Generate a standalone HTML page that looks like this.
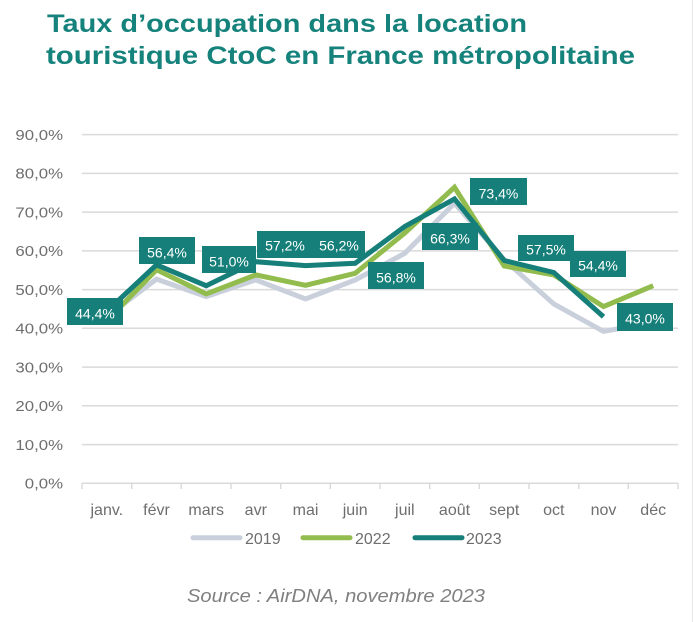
<!DOCTYPE html>
<html>
<head>
<meta charset="utf-8">
<style>
  html, body { margin:0; padding:0; background:#ffffff; }
  body { width:695px; height:622px; overflow:hidden; }
  svg { display:block; }
  .ax { font-family:"Liberation Sans", sans-serif; fill:#6e6e6e; }
  .lbl { font-family:"Liberation Sans", sans-serif; fill:#ffffff; font-size:14px; }
</style>
</head>
<body>
<svg width="695" height="622" viewBox="0 0 695 622" xmlns="http://www.w3.org/2000/svg">
  <rect x="0" y="0" width="695" height="622" fill="#ffffff"/>
  <line x1="692.5" y1="0" x2="692.5" y2="622" stroke="#e8e8e8" stroke-width="1"/>

  <!-- Title -->
  <text x="47" y="32" font-family="Liberation Sans, sans-serif" font-weight="bold" font-size="25" fill="#16827c" textLength="480" lengthAdjust="spacingAndGlyphs">Taux d’occupation dans la location</text>
  <text x="46" y="64" font-family="Liberation Sans, sans-serif" font-weight="bold" font-size="25" fill="#16827c" textLength="589" lengthAdjust="spacingAndGlyphs">touristique CtoC en France métropolitaine</text>

  <!-- Gridlines -->
  <g stroke="#dadada" stroke-width="1.5">
    <line x1="82" y1="134.6" x2="678" y2="134.6"/>
    <line x1="82" y1="173.4" x2="678" y2="173.4"/>
    <line x1="82" y1="212.1" x2="678" y2="212.1"/>
    <line x1="82" y1="250.9" x2="678" y2="250.9"/>
    <line x1="82" y1="289.6" x2="678" y2="289.6"/>
    <line x1="82" y1="328.3" x2="678" y2="328.3"/>
    <line x1="82" y1="367.1" x2="678" y2="367.1"/>
    <line x1="82" y1="405.8" x2="678" y2="405.8"/>
    <line x1="82" y1="444.6" x2="678" y2="444.6"/>
    <line x1="82" y1="483.3" x2="678" y2="483.3"/>
  </g>
  <!-- ticks -->
  <g stroke="#dadada" stroke-width="1.5">
    <line x1="82" y1="483.3" x2="82" y2="489"/>
    <line x1="131.7" y1="483.3" x2="131.7" y2="489"/>
    <line x1="181.3" y1="483.3" x2="181.3" y2="489"/>
    <line x1="231" y1="483.3" x2="231" y2="489"/>
    <line x1="280.7" y1="483.3" x2="280.7" y2="489"/>
    <line x1="330.3" y1="483.3" x2="330.3" y2="489"/>
    <line x1="380" y1="483.3" x2="380" y2="489"/>
    <line x1="429.7" y1="483.3" x2="429.7" y2="489"/>
    <line x1="479.3" y1="483.3" x2="479.3" y2="489"/>
    <line x1="529" y1="483.3" x2="529" y2="489"/>
    <line x1="578.7" y1="483.3" x2="578.7" y2="489"/>
    <line x1="628.3" y1="483.3" x2="628.3" y2="489"/>
    <line x1="678" y1="483.3" x2="678" y2="489"/>
  </g>

  <!-- Y labels -->
  <g class="ax" font-size="15">
    <g transform="translate(63,139.8) scale(1.12,1)"><text text-anchor="end">90,0%</text></g>
    <g transform="translate(63,178.6) scale(1.12,1)"><text text-anchor="end">80,0%</text></g>
    <g transform="translate(63,217.3) scale(1.12,1)"><text text-anchor="end">70,0%</text></g>
    <g transform="translate(63,256.1) scale(1.12,1)"><text text-anchor="end">60,0%</text></g>
    <g transform="translate(63,294.8) scale(1.12,1)"><text text-anchor="end">50,0%</text></g>
    <g transform="translate(63,333.5) scale(1.12,1)"><text text-anchor="end">40,0%</text></g>
    <g transform="translate(63,372.3) scale(1.12,1)"><text text-anchor="end">30,0%</text></g>
    <g transform="translate(63,411) scale(1.12,1)"><text text-anchor="end">20,0%</text></g>
    <g transform="translate(63,449.8) scale(1.12,1)"><text text-anchor="end">10,0%</text></g>
    <g transform="translate(63,488.5) scale(1.12,1)"><text text-anchor="end">0,0%</text></g>
  </g>

  <!-- X labels -->
  <g class="ax" font-size="16" text-anchor="middle">
    <text x="106.8" y="515">janv.</text>
    <text x="156.5" y="515">févr</text>
    <text x="206.2" y="515">mars</text>
    <text x="255.8" y="515">avr</text>
    <text x="305.5" y="515">mai</text>
    <text x="355.2" y="515">juin</text>
    <text x="404.8" y="515">juil</text>
    <text x="454.5" y="515">août</text>
    <text x="504.2" y="515">sept</text>
    <text x="553.8" y="515">oct</text>
    <text x="603.5" y="515">nov</text>
    <text x="653.2" y="515">déc</text>
  </g>

  <!-- Series -->
  <polyline fill="none" stroke="#c9d0db" stroke-width="5"
    points="106.8,316.7 156.5,279.1 206.2,296.6 255.8,279.9 305.5,298.9 355.2,280 404.8,253.3 454.5,203.2 504.2,259.8 553.8,304 603.5,331.4 653.2,322.5"/>
  <polyline fill="none" stroke="#93bc4e" stroke-width="5"
    points="106.8,320.6 156.5,269.8 206.2,293.9 255.8,274.9 305.5,285.3 355.2,273.3 404.8,233 454.5,187.3 504.2,266 553.8,274.9 603.5,306.6 653.2,285.7"/>
  <polyline fill="none" stroke="#167f79" stroke-width="5"
    points="106.8,311.3 156.5,264.8 206.2,285.7 255.8,261.7 305.5,265.6 355.2,263.3 404.8,226.5 454.5,198.9 504.2,260.5 553.8,272.5 603.5,316.7"/>

  <!-- Data labels -->
  <g fill="#167f79">
    <rect x="67" y="298" width="56" height="27"/>
    <rect x="139" y="237" width="56" height="27"/>
    <rect x="202" y="246" width="54" height="27"/>
    <rect x="257" y="231" width="56" height="27"/>
    <rect x="312" y="231" width="53" height="27"/>
    <rect x="368" y="262" width="56" height="27"/>
    <rect x="422" y="223" width="56" height="27"/>
    <rect x="470" y="178" width="57" height="27"/>
    <rect x="518" y="235" width="56" height="26"/>
    <rect x="570" y="251" width="56" height="26"/>
    <rect x="617" y="303" width="56" height="28"/>
  </g>
  <g class="lbl" text-anchor="middle">
    <text x="95" y="318.5">44,4%</text>
    <text x="167" y="257.5">56,4%</text>
    <text x="229" y="266.5">51,0%</text>
    <text x="285" y="250.5">57,2%</text>
    <text x="339" y="250.5">56,2%</text>
    <text x="396" y="282.5">56,8%</text>
    <text x="450" y="243.5">66,3%</text>
    <text x="498.5" y="198.5">73,4%</text>
    <text x="546" y="254.5">57,5%</text>
    <text x="598" y="270.5">54,4%</text>
    <text x="645" y="323.5">43,0%</text>
  </g>

  <!-- Legend -->
  <g stroke-width="5" stroke-linecap="round">
    <line x1="193" y1="537.7" x2="240" y2="537.7" stroke="#c9d0db"/>
    <line x1="303" y1="537.7" x2="350" y2="537.7" stroke="#93bc4e"/>
    <line x1="415" y1="537.7" x2="462" y2="537.7" stroke="#167f79"/>
  </g>
  <g class="ax" font-size="16">
    <text x="245" y="544">2019</text>
    <text x="355" y="544">2022</text>
    <text x="466" y="544">2023</text>
  </g>

  <!-- Source -->
  <text x="187" y="602" font-family="Liberation Sans, sans-serif" font-style="italic" font-size="18" fill="#808080" textLength="298" lengthAdjust="spacingAndGlyphs">Source : AirDNA, novembre 2023</text>
</svg>
</body>
</html>
